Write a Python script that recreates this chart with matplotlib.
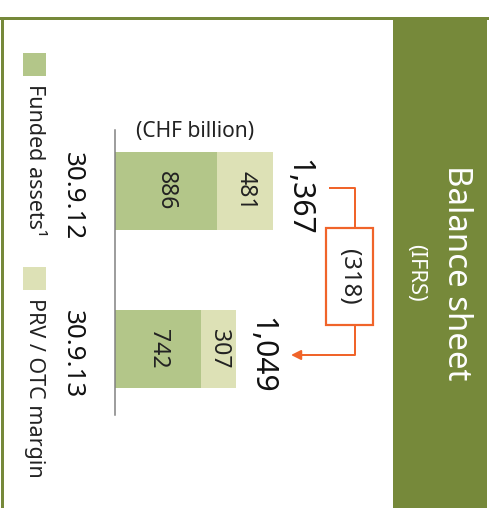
import matplotlib.pyplot as plt
from matplotlib.patches import Rectangle

plt.rcParams['font.family'] = ['Noto Sans', 'DejaVu Sans']

# data (CHF billion)
dates = ["30.9.12", "30.9.13"]
funded = [886, 742]
prv_otc = [481, 307]
totals = ["1,367", "1,049"]
change = "(318)"
series_names = ["Funded assets\u00b9", "PRV / OTC margin"]

c_funded = "#b3c689"
c_prv = "#dde1b6"
c_panel = "#76893a"
c_orange = "#f0642a"

W, H = 495, 508
fig = plt.figure(figsize=(W / 72, H / 72), dpi=72)

# decoration layer in pixel coordinates
deco = fig.add_axes([0, 0, 1, 1])
deco.set_xlim(0, W)
deco.set_ylim(H, 0)
deco.axis("off")

deco.add_patch(Rectangle((393, 17), 94, H - 17, color=c_panel, lw=0))
deco.plot([0, 487], [18, 18], color=c_panel, lw=3)
deco.plot([1.5, 1.5], [18, H], color=c_panel, lw=3)

deco.text(456, 273, "Balance sheet", color="white", fontsize=33,
          rotation=-90, ha="center", va="center")
deco.text(416, 273, "(IFRS)", color="white", fontsize=22,
          rotation=-90, ha="center", va="center")

deco.text(195, 131, "(CHF billion)", fontsize=21, ha="center", va="center",
          color="#222222")

# legend
for ys, name, col in [(53, series_names[0], c_funded), (267, series_names[1], c_prv)]:
    deco.add_patch(Rectangle((23, ys), 23, 23, color=col, lw=0))
    deco.text(34, ys + 31, name, fontsize=21.5, rotation=-90, ha="center",
              va="top", color="#222222")

# change bracket
deco.plot([330, 355, 355], [188, 188, 228], color=c_orange, lw=2)
deco.add_patch(Rectangle((326, 228), 47, 97, fill=False, ec=c_orange, lw=2.2))
deco.text(349, 277, change, fontsize=24, rotation=-90, ha="center",
          va="center", color="#222222")
deco.plot([355, 355, 300], [325, 355, 355], color=c_orange, lw=2)
deco.annotate("", xy=(291, 355), xytext=(306, 355),
              arrowprops=dict(arrowstyle="-|>,head_length=0.8,head_width=0.4",
                              color=c_orange, lw=2, shrinkA=0, shrinkB=0))

# bars
ax = fig.add_axes([115 / W, (H - 415) / H, 200 / W, 285 / H])
ax.patch.set_alpha(0)
ypos = [0, 1]
ax.barh(ypos, funded, height=0.49, color=c_funded, lw=0)
ax.barh(ypos, prv_otc, left=funded, height=0.49, color=c_prv, lw=0)
ax.set_xlim(0, 1367 * 200 / 158)
ax.set_ylim(1.418, -0.386)

for i in ypos:
    ax.text(funded[i] / 2, i, str(funded[i]), rotation=-90, ha="center",
            va="center", fontsize=23, color="#222222")
    ax.text(funded[i] + prv_otc[i] / 2, i, str(prv_otc[i]), rotation=-90,
            ha="center", va="center", fontsize=23, color="#222222")
    ax.annotate(totals[i], xy=(funded[i] + prv_otc[i], i), xytext=(25, -6),
                textcoords="offset points", rotation=-90, ha="center",
                va="center", fontsize=30, color="#111111")
    ax.annotate(dates[i], xy=(0, i), xytext=(-43, -5), textcoords="offset points",
                rotation=-90, ha="center", va="center", fontsize=26,
                color="#111111")

for s in ["top", "right", "bottom"]:
    ax.spines[s].set_visible(False)
ax.spines["left"].set_color("#7f7f7f")
ax.spines["left"].set_linewidth(1.5)
ax.set_xticks([])
ax.set_yticks([])

fig.savefig("out.png", dpi=72)
